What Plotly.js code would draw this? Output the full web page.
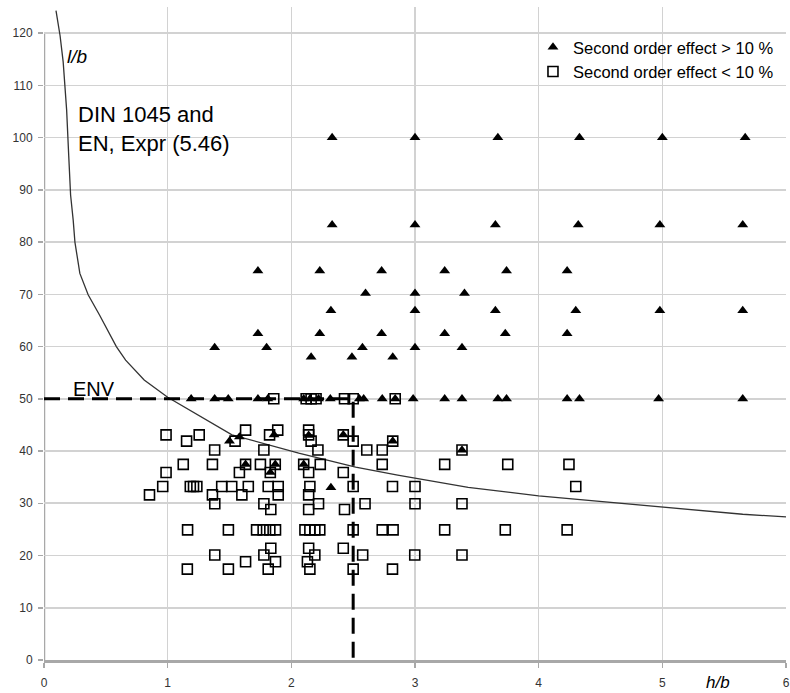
<!DOCTYPE html>
<html>
<head>
<meta charset="utf-8">
<script src="https://cdn.plot.ly/plotly-3.0.1.min.js"></script>
<style>html,body{margin:0;padding:0;background:#fff;}#chart{width:790px;height:693px;}</style>
</head>
<body>
<div id="chart"></div>
<script>
// DIN 1045 / EN Expr (5.46) limit curve
const curveH = [0.097, 0.13, 0.155, 0.183, 0.2, 0.215, 0.236, 0.25, 0.29, 0.357, 0.45, 0.585, 0.66, 0.81, 1.0, 1.15, 1.52, 2.06, 2.52, 2.86, 3.19, 3.43, 4.0, 5.0, 5.65, 6.0];
const curveL = [124.3, 119.5, 114.5, 105.3, 96.5, 89, 84.2, 80, 74, 69.9, 66, 60, 57.4, 53.6, 50.3, 48.2, 43.1, 39.6, 36.9, 35.4, 34.1, 33.05, 31.4, 29.3, 27.9, 27.4];

// ENV limits (l/b = 50, h/b = 2.5)
const envH = [0, 2.5, 2.5];
const envL = [50, 50, 0];

// Second order effect > 10 %
const triH = [
  2.33, 3.0, 3.67, 4.33, 5.0, 5.67,
  2.33, 3.0, 3.65, 4.32, 4.98, 5.65,
  1.73, 2.23, 2.73, 3.24, 3.74, 4.23,
  2.6, 3.0, 3.4,
  2.32, 3.0, 3.65, 4.3, 4.98, 5.65,
  1.73, 2.23, 2.73, 3.24, 3.73, 4.23,
  1.38, 1.80, 2.575, 3.0, 3.38,
  2.16, 2.49, 2.82,
  1.19, 1.38, 1.49, 1.73, 1.81, 2.10, 2.15, 2.22, 2.315, 2.55, 2.585, 2.735, 2.84, 2.985, 3.24, 3.38, 3.67, 3.74, 4.23, 4.33, 4.97, 5.65,
  1.50, 1.58, 1.86, 2.14, 2.42, 2.82, 1.63, 1.87, 1.83, 2.10, 2.32, 3.38
];
const triL = [
  100, 100, 100, 100, 100, 100,
  83.3, 83.3, 83.3, 83.3, 83.3, 83.3,
  74.5, 74.5, 74.5, 74.5, 74.5, 74.5,
  70.2, 70.2, 70.2,
  66.9, 66.9, 66.9, 66.9, 66.9, 66.9,
  62.5, 62.5, 62.5, 62.5, 62.5, 62.5,
  59.8, 59.8, 59.8, 59.8, 59.8,
  58, 58, 58,
  50, 50, 50, 50, 50, 50, 50, 50, 50, 50, 50, 50, 50, 50, 50, 50, 50, 50, 50, 50, 50, 50,
  41.9, 42.7, 43.1, 43.0, 43.1, 41.9, 37.45, 37.45, 35.9, 37.45, 33.0, 40.2
];

// Second order effect < 10 %
const sqH = [
  1.858, 2.12, 2.16, 2.20, 2.43, 2.50, 2.84,
  1.63, 1.89, 2.14,
  0.987, 1.255, 1.824, 2.14, 2.42,
  1.153, 1.545, 2.16, 2.50, 2.82,
  1.38, 1.778, 2.215, 2.61, 2.735, 3.38,
  1.126, 1.362, 1.63, 1.75, 1.87, 2.10, 2.234, 2.735, 3.24, 3.75, 4.245,
  0.987, 1.58, 1.83, 2.14, 2.42,
  0.96, 1.183, 1.209, 1.236, 1.437, 1.518, 1.652, 1.813, 1.894, 2.15, 2.50, 2.818, 3.0, 4.30,
  0.853, 1.362, 1.60, 1.894, 2.14,
  1.381, 1.778, 2.22, 2.596, 3.0, 3.38,
  1.834, 2.14, 2.43,
  1.161, 1.491, 1.719, 1.772, 1.826, 1.872, 2.11, 2.15, 2.19, 2.23, 2.50, 2.735, 2.823, 3.24, 3.73, 4.23,
  1.834, 2.14, 2.42,
  1.381, 1.778, 2.19, 2.577, 2.998, 3.38,
  1.63, 1.872, 2.13,
  1.159, 1.491, 1.813, 2.15, 2.50, 2.818
];
const sqL = [
  50, 50, 50, 50, 50, 50, 50,
  44.0, 44.0, 44.0,
  43.1, 43.1, 43.1, 43.1, 43.1,
  41.9, 41.9, 41.9, 41.9, 41.9,
  40.2, 40.2, 40.2, 40.2, 40.2, 40.2,
  37.45, 37.45, 37.45, 37.45, 37.45, 37.45, 37.45, 37.45, 37.45, 37.45, 37.45,
  35.9, 35.9, 35.9, 35.9, 35.9,
  33.2, 33.2, 33.2, 33.2, 33.2, 33.2, 33.2, 33.2, 33.2, 33.2, 33.2, 33.2, 33.2, 33.2,
  31.6, 31.6, 31.6, 31.6, 31.6,
  29.9, 29.9, 29.9, 29.9, 29.9, 29.9,
  28.8, 28.8, 28.8,
  24.9, 24.9, 24.9, 24.9, 24.9, 24.9, 24.9, 24.9, 24.9, 24.9, 24.9, 24.9, 24.9, 24.9, 24.9, 24.9,
  21.4, 21.4, 21.4,
  20.1, 20.1, 20.1, 20.1, 20.1, 20.1,
  18.8, 18.8, 18.8,
  17.4, 17.4, 17.4, 17.4, 17.4, 17.4
];

const xTicks = [0, 1, 2, 3, 4, 5, 6];
const yTicks = [0, 10, 20, 30, 40, 50, 60, 70, 80, 90, 100, 110, 120];

const FONT = 'Liberation Sans, Arial, sans-serif';

const traces = [
  {x: curveH, y: curveL, mode: 'lines', line: {color: '#333', width: 1.3}, showlegend: false, hoverinfo: 'skip'},
  {x: envH, y: envL, mode: 'lines', line: {color: '#000', width: 3, dash: '16px,8px'}, showlegend: false, hoverinfo: 'skip'},
  {x: triH, y: triL, mode: 'markers', name: 'Second order effect > 10 %',
   marker: {symbol: 'triangle-up', size: 9.5, color: '#000', line: {width: 0}}},
  {x: sqH, y: sqL, mode: 'markers', name: 'Second order effect < 10 %',
   marker: {symbol: 'square-open', size: 10, color: '#000', line: {width: 1.6, color: '#000'}}}
];

const layout = {
  width: 790, height: 693,
  margin: {l: 44, r: 4, t: 7, b: 33, pad: 0},
  paper_bgcolor: '#fff', plot_bgcolor: '#fff',
  font: {family: FONT, color: '#000'},
  showlegend: true,
  legend: {x: 0.659, y: 0.965, xanchor: 'left', yanchor: 'top', bgcolor: 'rgba(0,0,0,0)', borderwidth: 0,
           font: {family: FONT, size: 16.5, color: '#000'}, itemwidth: 30, tracegroupgap: 0},
  xaxis: {range: [0, 6], tickvals: xTicks, ticktext: xTicks.map(String), showgrid: true, gridcolor: '#d2d2d2', gridwidth: 1.6,
          zeroline: false, showline: true, linecolor: '#a8a8a8', linewidth: 2.5, ticks: 'outside', ticklen: 5,
          tickcolor: '#a8a8a8', tickwidth: 1.5, ticklabelstandoff: 5, ticklabeloverflow: 'allow',
          tickfont: {family: FONT, size: 12, color: '#333'}, fixedrange: true},
  yaxis: {range: [0, 125], tickvals: yTicks, ticktext: yTicks.map(String), showgrid: true, gridcolor: '#d2d2d2', gridwidth: 1.6,
          zeroline: false, showline: false, ticks: 'outside', ticklen: 5, tickcolor: '#a8a8a8', tickwidth: 1.5,
          ticklabelstandoff: 3, tickfont: {family: FONT, size: 12, color: '#333'}, fixedrange: true},
  shapes: [
    {type: 'line', xref: 'x', yref: 'y', x0: 0, x1: 0, y0: 0, y1: 120, line: {color: '#a8a8a8', width: 2.5}, layer: 'below'},
    {type: 'rect', xref: 'paper', yref: 'paper', x0: 0.679, x1: 1, y0: 0.8836, y1: 0.9556, fillcolor: '#fff', line: {width: 0}, layer: 'between'}
  ],
  annotations: [
    {xref: 'x', yref: 'y', x: 0.17, y: 115.6, text: '<i>l/b</i>', showarrow: false, xanchor: 'left', yanchor: 'middle',
     font: {family: FONT, size: 19, color: '#000'}},
    {xref: 'x', yref: 'y', x: 0.255, y: 101.7, text: 'DIN 1045 and<br>EN, Expr (5.46)', showarrow: false, xanchor: 'left', yanchor: 'middle', align: 'left',
     font: {family: FONT, size: 22, color: '#000'}},
    {xref: 'x', yref: 'y', x: 0.22, y: 51.8, text: 'ENV', showarrow: false, xanchor: 'left', yanchor: 'middle',
     font: {family: FONT, size: 20, color: '#000'}},
    {xref: 'x', yref: 'paper', x: 5.45, y: -0.034, text: '<i>h/b</i>', showarrow: false, xanchor: 'center', yanchor: 'middle',
     font: {family: FONT, size: 17, color: '#000'}}
  ]
};

Plotly.newPlot('chart', traces, layout, {displayModeBar: false, staticPlot: true});
</script>
</body>
</html>
